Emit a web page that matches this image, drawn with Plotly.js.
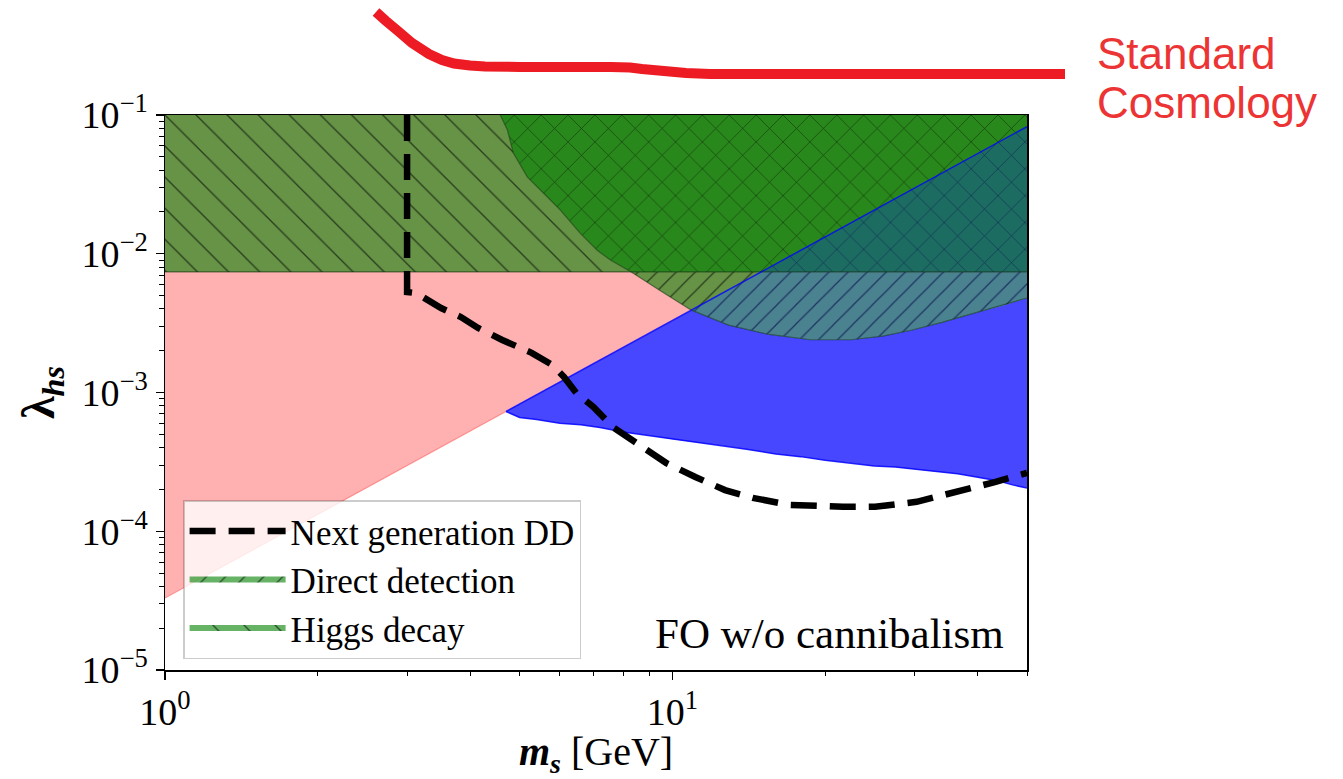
<!DOCTYPE html>
<html>
<head>
<meta charset="utf-8">
<script src="https://cdn.plot.ly/plotly-3.0.1.min.js"></script>
<style>html,body{margin:0;padding:0;background:#fff;}#chart{width:1343px;height:779px;}</style>
</head>
<body>
<div id="chart"></div>
<script>
// ---------------- data ----------------
// boundary between the pink region (above) and the blue band (below)
const relicM = [1, 4.7, 10.9, 50];
const relicL = [3.3e-5, 7.3e-4, 3.92e-3, 0.0825];

// lower edge of the blue band
const blueLowM = [4.7, 5.0, 5.4, 6.0, 6.6, 7.2, 8.0, 9.0, 10.0, 11.0, 12.5, 14.0, 16.0, 17.9, 20.0, 22.5, 25.0, 27.5, 30.0, 33.0, 36.5, 40.0, 44.0, 47.0, 50.0];
const blueLowL = [7.3e-4, 6.6e-4, 6.4e-4, 6.0e-4, 5.85e-4, 5.6e-4, 5.2e-4, 4.9e-4, 4.6e-4, 4.4e-4, 4.15e-4, 3.9e-4, 3.6e-4, 3.45e-4, 3.25e-4, 3.1e-4, 2.95e-4, 2.9e-4, 2.8e-4, 2.7e-4, 2.6e-4, 2.45e-4, 2.3e-4, 2.15e-4, 2.05e-4];

// direct detection exclusion boundary
const ddM = [4.58, 4.73, 4.86, 5.18, 5.57, 6.01, 6.58, 7.11, 7.55, 8.30, 9.42, 10.9, 12.9, 15.5, 18.7, 22.5, 26.0, 29.7, 34.0, 39.4, 45.0, 50.0];
const ddL = [0.1, 0.078, 0.0532, 0.0357, 0.0274, 0.0207, 0.0141, 0.0106, 9.0e-3, 7.4e-3, 5.48e-3, 3.92e-3, 3.06e-3, 2.62e-3, 2.40e-3, 2.40e-3, 2.55e-3, 2.82e-3, 3.2e-3, 3.74e-3, 4.25e-3, 4.8e-3];

// Higgs decay bound
const higgsL = 7.4e-3;

// next generation DD projection
const ngM = [3.0, 3.0, 3.13, 3.50, 3.83, 4.14, 4.62, 5.28, 5.80, 6.12, 6.47, 6.98, 7.65, 8.57, 9.73, 11.1, 12.7, 14.4, 17.0, 21.7, 25.1, 30.3, 35.8, 43.2, 50.0];
const ngL = [0.1, 5.3e-3, 5.2e-3, 4.06e-3, 3.5e-3, 2.92e-3, 2.39e-3, 1.93e-3, 1.58e-3, 1.29e-3, 9.9e-4, 7.9e-4, 5.6e-4, 4.2e-4, 3.1e-4, 2.46e-4, 1.98e-4, 1.74e-4, 1.55e-4, 1.50e-4, 1.50e-4, 1.63e-4, 1.89e-4, 2.26e-4, 2.63e-4];

// axis extents and tick labels
const mMin = 1, mMax = 50, lMin = 1e-5, lMax = 0.1;
const xTickVals = [1, 10];
const xTickText = ['10<sup>0</sup>', '10<sup>1</sup>'];
const yTickVals = [1e-5, 1e-4, 1e-3, 1e-2, 1e-1];
const yTickText = ['10<sup>\u22125</sup>', '10<sup>\u22124</sup>', '10<sup>\u22123</sup>', '10<sup>\u22122</sup>', '10<sup>\u22121</sup>'];

const legendNames = ['Next generation DD', 'Direct detection', 'Higgs decay'];
const panelLabel = 'FO w/o cannibalism';
const sideLabel = ['Standard', 'Cosmology'];

// ---------------- build polygons from the data ----------------
const kRel = ddM.indexOf(relicM[2]);          // DD curve meets relic line
const kH = ddL.indexOf(higgsL);                // DD curve meets Higgs bound

const minorX = [];
for (let d = 1; d <= 10; d *= 10) for (let k = 2; k <= 9; k++) if (k * d <= mMax) minorX.push(k * d);
const minorY = [];
for (let e = -5; e < -1; e++) for (let k = 2; k <= 9; k++) minorY.push(k * Math.pow(10, e));

const hatchFg = 'rgba(0,0,0,1)';
const traces = [];

// pink region (above relic line)
traces.push({
  x: relicM.concat([mMax, mMin]), y: relicL.concat([lMax, lMax]),
  mode: 'none', fill: 'toself', fillcolor: 'rgb(255,176,176)', showlegend: false, hoverinfo: 'skip'
});
// blue band, part below the DD curve (strong blue)
traces.push({
  x: [relicM[1]].concat(ddM.slice(kRel)).concat(blueLowM.slice().reverse()),
  y: [relicL[1]].concat(ddL.slice(kRel)).concat(blueLowL.slice().reverse()),
  mode: 'none', fill: 'toself', fillcolor: 'rgba(0,0,255,0.72)', showlegend: false, hoverinfo: 'skip'
});
// Higgs decay only
traces.push({
  x: [mMin].concat(ddM.slice(0, kH + 1).reverse()).concat([mMin]),
  y: [higgsL].concat(ddL.slice(0, kH + 1).reverse()).concat([lMax]),
  mode: 'none', fill: 'toself', fillcolor: 'rgba(0,128,0,0.6)',
  fillpattern: {shape: '\\', size: 22, solidity: 0.06, bgcolor: 'rgba(0,128,0,0.6)', fgcolor: hatchFg, fgopacity: 0.6},
  name: legendNames[2], legendrank: 3, showlegend: true, hoverinfo: 'skip'
});
// overlap of Higgs decay and direct detection
traces.push({
  x: ddM.slice(0, kH + 1).concat([mMax, mMax]),
  y: ddL.slice(0, kH + 1).concat([higgsL, lMax]),
  mode: 'none', fill: 'toself', fillcolor: 'rgba(0,128,0,0.84)',
  fillpattern: {shape: 'x', size: 19, solidity: 0.065, bgcolor: 'rgba(0,128,0,0.84)', fgcolor: hatchFg, fgopacity: 0.6},
  showlegend: false, hoverinfo: 'skip'
});
// direct detection only
traces.push({
  x: ddM.slice(kH).concat([mMax]),
  y: ddL.slice(kH).concat([higgsL]),
  mode: 'none', fill: 'toself', fillcolor: 'rgba(0,128,0,0.6)',
  fillpattern: {shape: '/', size: 13.5, solidity: 0.09, bgcolor: 'rgba(0,128,0,0.6)', fgcolor: hatchFg, fgopacity: 0.6},
  name: legendNames[1], legendrank: 2, showlegend: true, hoverinfo: 'skip'
});
// blue band, part above the DD curve (light blue over the green)
traces.push({
  x: [relicM[2], relicM[3]].concat(ddM.slice(kRel).reverse()),
  y: [relicL[2], relicL[3]].concat(ddL.slice(kRel).reverse()),
  mode: 'none', fill: 'toself', fillcolor: 'rgba(0,0,255,0.27)', showlegend: false, hoverinfo: 'skip'
});
// edges
traces.push({x: relicM.slice(0, 2), y: relicL.slice(0, 2), mode: 'lines', line: {color: 'rgba(255,60,60,0.45)', width: 1.2}, showlegend: false, hoverinfo: 'skip'});
traces.push({x: [mMin, mMax], y: [higgsL, higgsL], mode: 'lines', line: {color: 'rgba(20,50,20,0.6)', width: 1.2}, showlegend: false, hoverinfo: 'skip'});
traces.push({x: ddM, y: ddL, mode: 'lines', line: {color: 'rgba(10,50,10,0.55)', width: 1.2}, showlegend: false, hoverinfo: 'skip'});
traces.push({x: relicM.slice(1), y: relicL.slice(1), mode: 'lines', line: {color: 'rgba(0,0,255,0.8)', width: 1.5}, showlegend: false, hoverinfo: 'skip'});
traces.push({x: blueLowM, y: blueLowL, mode: 'lines', line: {color: 'rgba(0,0,255,0.85)', width: 1.5}, showlegend: false, hoverinfo: 'skip'});
// next generation DD
traces.push({
  x: ngM, y: ngL, mode: 'lines', line: {color: 'black', width: 6.5, dash: '26px,13px'},
  name: legendNames[0], legendrank: 1, showlegend: true, hoverinfo: 'skip'
});

// hand-drawn red stroke above the plot (pixel positions -> paper coords)
const L0 = 165, R0 = 1027, T0 = 115, B0 = 670;
const strokePX = [376, 386, 398, 412, 429, 442, 454, 470, 485, 520, 548, 580, 611, 630, 642, 664, 686, 710, 736, 800, 900, 1000, 1065];
const strokePY = [12, 21, 31, 43, 54, 60, 63.5, 65.5, 66.5, 67, 67, 67, 67, 67.5, 69, 71, 73, 74, 74, 74, 74, 74, 74];
let strokePath = '';
strokePX.forEach((px, i) => {
  const xp = (px - L0) / (R0 - L0), yp = (B0 - strokePY[i]) / (B0 - T0);
  strokePath += (i === 0 ? 'M' : 'L') + xp.toFixed(5) + ',' + yp.toFixed(5);
});

const serif = 'Liberation Serif, Times New Roman, serif';
const sans = 'Liberation Sans, Arial, sans-serif';
const axisCommon = {
  type: 'log', showgrid: false, zeroline: false, showline: true, mirror: true,
  linecolor: 'black', linewidth: 1.5, ticks: 'outside', ticklen: 8, tickwidth: 1.3, tickcolor: 'black',
  tickmode: 'array', tickfont: {family: serif, size: 38, color: 'black'}, automargin: false
};

const layout = {
  width: 1343, height: 779,
  margin: {l: L0, r: 1343 - R0, t: T0, b: 779 - B0, pad: 0},
  paper_bgcolor: 'white', plot_bgcolor: 'white',
  font: {family: serif, color: 'black'},
  xaxis: Object.assign({}, axisCommon, {
    range: [Math.log10(mMin), Math.log10(mMax)],
    tickvals: xTickVals, ticktext: xTickText,
    minor: {ticks: 'outside', ticklen: 4.5, tickwidth: 1, tickcolor: 'black', tickmode: 'array', tickvals: minorX, showgrid: false},
    title: {text: '<b><i>m</i></b><sub><b><i>s</i></b></sub> [GeV]', font: {family: serif, size: 40}, standoff: 13}
  }),
  yaxis: Object.assign({}, axisCommon, {
    range: [Math.log10(lMin), Math.log10(lMax)],
    tickvals: yTickVals, ticktext: yTickText,
    minor: {ticks: 'outside', ticklen: 4.5, tickwidth: 1, tickcolor: 'black', tickmode: 'array', tickvals: minorY, showgrid: false},
    title: {text: '<b>\u03bb</b><sub><b><i>hs</i></b></sub>', font: {family: serif, size: 46}, standoff: 12}
  }),
  legend: {
    x: 0.021, y: 0.306, xanchor: 'left', yanchor: 'top',
    bgcolor: 'rgba(255,255,255,0.8)', bordercolor: 'rgba(0,0,0,0.2)', borderwidth: 1.5,
    font: {family: serif, size: 35, color: 'black'}, traceorder: 'normal', itemwidth: 96
  },
  annotations: [
    {text: panelLabel, xref: 'paper', yref: 'paper', x: 0.976, y: 0.066, xanchor: 'right', yanchor: 'middle',
     showarrow: false, font: {family: serif, size: 43, color: 'black'}},
    {text: sideLabel[0], xref: 'paper', yref: 'paper', x: (1095 - L0) / (R0 - L0), y: (B0 - 53) / (B0 - T0),
     xanchor: 'left', yanchor: 'middle', showarrow: false, font: {family: sans, size: 44, color: 'rgb(236,52,52)'}},
    {text: sideLabel[1], xref: 'paper', yref: 'paper', x: (1095 - L0) / (R0 - L0), y: (B0 - 102) / (B0 - T0),
     xanchor: 'left', yanchor: 'middle', showarrow: false, font: {family: sans, size: 44, color: 'rgb(236,52,52)'}}
  ],
  shapes: [
    {type: 'path', xref: 'paper', yref: 'paper', path: strokePath, line: {color: 'rgb(237,28,36)', width: 10}, layer: 'above'}
  ]
};

Plotly.newPlot('chart', traces, layout, {displayModeBar: false, staticPlot: true});
</script>
</body>
</html>
